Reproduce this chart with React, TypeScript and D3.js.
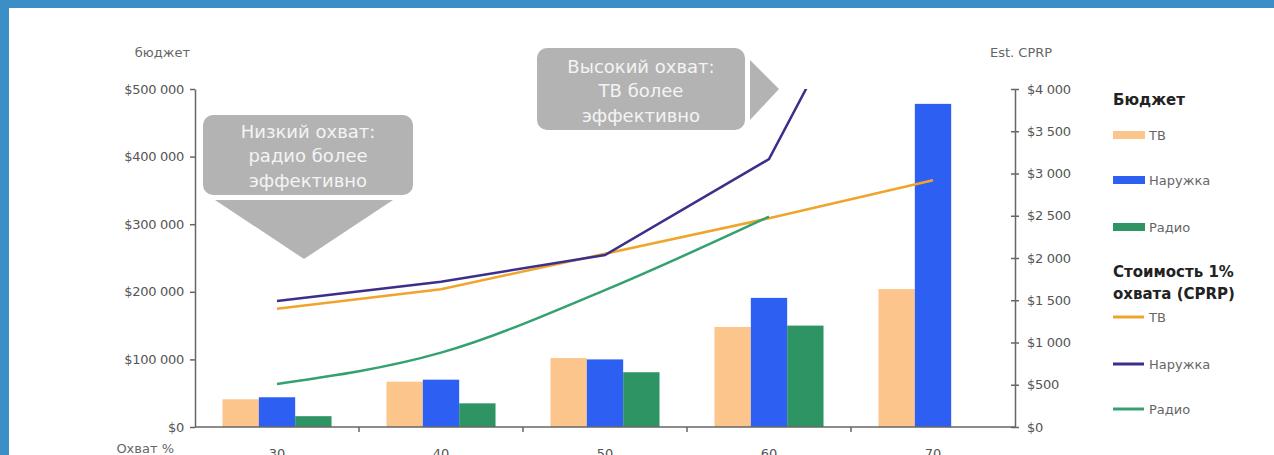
import * as d3 from 'd3';
import { useEffect, useRef } from 'react';

// данные
const categories = ['30', '40', '50', '60', '70'];
const budgetTV = [41000, 67000, 102000, 148000, 204000];
const budgetOutdoor = [44000, 70000, 100000, 191000, 478000];
const budgetRadio: (number | null)[] = [16000, 35000, 81000, 150000, null];
const cprpTV = [1400, 1630, 2050, 2470, 2920];
const cprpOutdoor = [1490, 1720, 2035, 3170, 6850];
const cprpRadio: (number | null)[] = [510, 880, 1620, 2490, null];
const budgetTicks = [0, 100000, 200000, 300000, 400000, 500000];
const cprpTicks = [0, 500, 1000, 1500, 2000, 2500, 3000, 3500, 4000];
const seriesNames = ['ТВ', 'Наружка', 'Радио'];
const lowCallout = ['Низкий охват:', 'радио более', 'эффективно'];
const highCallout = ['Высокий охват:', 'ТВ более', 'эффективно'];

const barColors = ['#fbc58c', '#2d60f2', '#2f9464'];
const lineColors = ['#f0a42c', '#3b2f8c', '#35a070'];
const FONT = '"DejaVu Sans", sans-serif';

const money = (v: number) => '$' + d3.format(',')(v).replace(/,/g, ' ');

export default function App() {
    const svgRef = useRef<SVGSVGElement | null>(null);

    useEffect(() => {
        document.body.style.margin = '0';
        if (!svgRef.current) return;
        const width = 1274;
        const height = 455;
        const margin = { top: 89, right: 259, bottom: 28, left: 195 };
        const x0 = margin.left;
        const x1 = width - margin.right;
        const yBottom = height - margin.bottom;

        const svg = d3.select(svgRef.current);
        svg.selectAll('*').remove();

        // рамка
        svg.append('rect').attr('width', width).attr('height', height).attr('fill', '#fff');
        svg.append('rect').attr('width', 9).attr('height', height).attr('fill', '#3c8ec6');
        svg.append('rect').attr('width', width).attr('height', 8).attr('fill', '#3c8ec6');

        const x = d3.scaleBand().domain(categories).range([x0, x1]).paddingInner(0.335).paddingOuter(0.1675);
        const xSub = d3.scaleBand().domain(seriesNames).range([0, x.bandwidth()]);
        const yLeft = d3.scaleLinear().domain([0, 500000]).range([yBottom, margin.top]);
        const yRight = d3.scaleLinear().domain([0, 4000]).range([yBottom, margin.top]);

        // столбцы
        const budgets = [budgetTV, budgetOutdoor, budgetRadio];
        budgets.forEach((arr, si) => {
            svg.append('g').selectAll('rect')
                .data(categories.map((c, i) => ({ c, v: arr[i] })).filter(d => d.v != null))
                .join('rect')
                .attr('x', d => x(d.c)! + xSub(seriesNames[si])!)
                .attr('width', xSub.bandwidth())
                .attr('y', d => yLeft(d.v as number))
                .attr('height', d => yBottom - yLeft(d.v as number))
                .attr('fill', barColors[si]);
        });

        // линии
        svg.append('clipPath').attr('id', 'plot-clip')
            .append('rect').attr('x', x0).attr('y', margin.top).attr('width', x1 - x0).attr('height', yBottom - margin.top);
        const cprps = [cprpTV, cprpOutdoor, cprpRadio];
        cprps.forEach((arr, si) => {
            const line = d3.line<{ c: string; v: number | null }>()
                .defined(d => d.v != null)
                .x(d => x(d.c)! + x.bandwidth() / 2)
                .y(d => yRight(d.v as number))
                .curve(si === 2 ? d3.curveMonotoneX : d3.curveLinear);
            svg.append('path')
                .datum(categories.map((c, i) => ({ c, v: arr[i] })))
                .attr('clip-path', 'url(#plot-clip)')
                .attr('fill', 'none')
                .attr('stroke', lineColors[si])
                .attr('stroke-width', 2.5)
                .attr('d', line);
        });

        // оси
        const axisColor = '#666';
        const textColor = '#555';
        const gl = svg.append('g').attr('transform', `translate(${x0},0)`)
            .call(d3.axisLeft(yLeft).tickValues(budgetTicks).tickFormat(d => money(+d)).tickSize(5).tickSizeOuter(0).tickPadding(6));
        const gr = svg.append('g').attr('transform', `translate(${x1},0)`)
            .call(d3.axisRight(yRight).tickValues(cprpTicks).tickFormat(d => money(+d)).tickSize(4).tickSizeOuter(0).tickPadding(8));
        gr.selectAll('.tick line').attr('x1', -4);
        [gl, gr].forEach(g => {
            g.select('.domain').attr('stroke', axisColor).attr('stroke-width', 1.5);
            g.selectAll('.tick line').attr('stroke', axisColor).attr('stroke-width', 1.5);
            g.selectAll('.tick text').attr('fill', textColor).style('font-family', FONT).style('font-size', '13px').style('letter-spacing', '-0.3px');
        });

        svg.append('line').attr('x1', x0).attr('x2', x1).attr('y1', yBottom).attr('y2', yBottom)
            .attr('stroke', axisColor).attr('stroke-width', 1.5);
        const bounds = categories.map(c => x(c)! - (x.step() - x.bandwidth()) / 2);
        svg.append('g').selectAll('line').data(bounds.slice(1)).join('line')
            .attr('x1', d => d).attr('x2', d => d).attr('y1', yBottom).attr('y2', yBottom + 5)
            .attr('stroke', axisColor).attr('stroke-width', 1.5);
        svg.append('g').selectAll('text').data(categories).join('text')
            .attr('x', d => x(d)! + x.bandwidth() / 2).attr('y', 458)
            .attr('text-anchor', 'middle').attr('fill', textColor)
            .style('font-family', FONT).style('font-size', '13px').text(d => d);

        const label = (tx: number, ty: number, t: string, anchor = 'start') =>
            svg.append('text').attr('x', tx).attr('y', ty).attr('text-anchor', anchor)
                .attr('fill', '#666').style('font-family', FONT).style('font-size', '13px').text(t);
        label(190, 57, 'бюджет', 'end');
        label(990, 57, 'Est. CPRP');
        label(174, 453, 'Охват %', 'end');

        // выноски
        const calloutFill = '#b3b3b3';
        svg.append('rect').attr('x', 203).attr('y', 115).attr('width', 210).attr('height', 80).attr('rx', 10).attr('fill', calloutFill);
        svg.append('path').attr('d', 'M215,200 L393,200 L304,259 Z').attr('fill', calloutFill);
        svg.append('rect').attr('x', 537).attr('y', 48).attr('width', 208).attr('height', 82).attr('rx', 10).attr('fill', calloutFill);
        svg.append('path').attr('d', 'M750,60 L750,120 L779,89 Z').attr('fill', calloutFill);
        const calloutText = (cx: number, ys: number[], lines: string[]) =>
            svg.append('g').selectAll('text').data(lines).join('text')
                .attr('x', cx).attr('y', (_, i) => ys[i]).attr('text-anchor', 'middle')
                .attr('fill', '#f4f4f4').style('font-family', FONT).style('font-size', '18px').text(d => d);
        calloutText(308, [138, 162, 187], lowCallout);
        calloutText(641, [73, 97, 122], highCallout);

        // легенда
        const lx = 1113;
        const bold = (ty: number, t: string) =>
            svg.append('text').attr('x', lx).attr('y', ty).attr('fill', '#222')
                .style('font-family', FONT).style('font-weight', 'bold').style('font-size', '15px').text(t);
        const item = (ty: number, t: string) =>
            svg.append('text').attr('x', lx + 36).attr('y', ty + 4.5).attr('fill', '#666')
                .style('font-family', FONT).style('font-size', '13px').text(t);
        bold(105, 'Бюджет');
        [135, 180, 227].forEach((ty, i) => {
            svg.append('rect').attr('x', lx).attr('y', ty - 4).attr('width', 32).attr('height', 8).attr('fill', barColors[i]);
            item(ty, seriesNames[i]);
        });
        bold(277, 'Стоимость 1%');
        bold(299, 'охвата (CPRP)');
        [317, 364, 409].forEach((ty, i) => {
            svg.append('line').attr('x1', lx).attr('x2', lx + 31).attr('y1', ty).attr('y2', ty)
                .attr('stroke', lineColors[i]).attr('stroke-width', 3);
            item(ty, seriesNames[i]);
        });
    }, []);

    return <svg ref={svgRef} width={1274} height={455} style={{ display: 'block' }} />;
}
